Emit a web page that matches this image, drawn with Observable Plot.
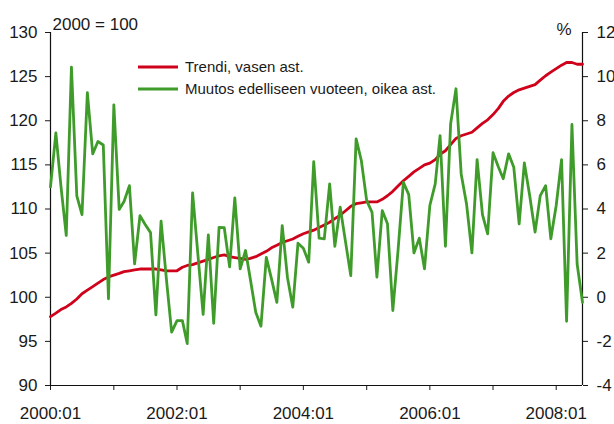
<!DOCTYPE html>
<html>
<head>
<meta charset="utf-8">
<script src="https://cdn.jsdelivr.net/npm/d3@7"></script>
<script src="https://cdn.jsdelivr.net/npm/@observablehq/plot@0.6"></script>
<style>
  html, body { margin: 0; padding: 0; background: #fff; }
  #chart { width: 614px; height: 424px; }
</style>
</head>
<body>
<div id="chart"></div>
<script>
// Monthly series, 2000:01 ... 2008:06
const startYear = 2000;
const startMonth = 0;

// Trend (2000 = 100), left axis
const trend = [
  97.8, 98.2, 98.6, 98.9, 99.3, 99.8, 100.4, 100.8, 101.2, 101.6, 102.0, 102.3,
  102.5, 102.7, 102.9, 103.0, 103.1, 103.2, 103.2, 103.2, 103.2, 103.1, 103.0, 103.0,
  103.0, 103.4, 103.6, 103.7, 103.9, 104.1, 104.3, 104.5, 104.7, 104.8, 104.6, 104.5,
  104.4, 104.3, 104.4, 104.6, 104.9, 105.2, 105.6, 105.9, 106.2, 106.4, 106.6, 106.9,
  107.2, 107.4, 107.6, 107.9, 108.2, 108.5, 108.9, 109.3, 109.8, 110.3, 110.6, 110.7,
  110.8, 110.8, 110.8, 111.1, 111.5, 112.0, 112.6, 113.2, 113.7, 114.2, 114.6, 115.0,
  115.2, 115.6, 116.2, 116.6, 117.3, 118.0, 118.3, 118.5, 118.7, 119.2, 119.7, 120.1,
  120.7, 121.4, 122.2, 122.8, 123.2, 123.5, 123.7, 123.9, 124.1, 124.6, 125.1, 125.5,
  125.9, 126.3, 126.6, 126.6, 126.4, 126.4
];

// Change from previous year (%), right axis
const change = [
  5.0, 7.45, 5.06, 2.8, 10.43, 4.6, 3.74, 9.27, 6.5, 7.06, 6.9, -0.07,
  8.72, 3.98, 4.34, 5.06, 1.51, 3.7, 3.3, 2.93, -0.8, 3.45, 0.8, -1.58,
  -1.06, -1.06, -2.1, 4.73, 2.0, -0.78, 2.83, -1.18, 3.17, 3.15, 1.38, 4.5,
  1.29, 2.12, 0.8, -0.68, -1.31, 1.81, 0.83, -0.23, 3.25, 0.91, -0.45, 2.45,
  2.22, 1.59, 6.15, 2.68, 2.65, 5.14, 2.31, 4.08, 2.5, 0.98, 7.18, 6.2,
  4.38, 3.85, 0.91, 3.93, 3.33, -0.6, 2.1, 5.21, 4.65, 2.01, 2.68, 1.29,
  4.16, 5.14, 7.33, 2.31, 7.86, 9.45, 5.59, 4.23, 2.01, 6.24, 3.74, 2.87,
  6.55, 5.9, 5.37, 6.5, 5.89, 3.33, 6.09, 4.6, 2.95, 4.61, 5.06, 2.65,
  4.16, 6.24, -1.09, 7.83, 1.51, -0.23
];

const leftTicks = [90, 95, 100, 105, 110, 115, 120, 125, 130];
const rightTicks = [-4, -2, 0, 2, 4, 6, 8, 10, 12];
const tickYears = [2000, 2001, 2002, 2003, 2004, 2005, 2006, 2007, 2008];
const labelYears = [2000, 2002, 2004, 2006, 2008];

const leftTitle = "2000 = 100";
const rightTitle = "%";
const legendLabels = ["Trendi, vasen ast.", "Muutos edelliseen vuoteen, oikea ast."];
const red = "#d0021b";
const green = "#3f9c2b";

// right axis (%) <-> left axis (index): 0 % ↔ 100, 12 % ↔ 130
const toLeft = (p) => 100 + p * 2.5;
const fromLeft = (v) => Math.round((v - 100) / 2.5);

const dateOf = (i) => new Date(Date.UTC(startYear, startMonth + i, 1));
const trendData = trend.map((v, i) => ({date: dateOf(i), value: v}));
const changeData = change.map((v, i) => ({date: dateOf(i), value: v}));
const firstDate = trendData[0].date;
const lastDate = trendData[trendData.length - 1].date;
const yearDates = tickYears.map((y) => new Date(Date.UTC(y, 0, 1)));

const chart = Plot.plot({
  width: 614,
  height: 424,
  marginLeft: 50,
  marginRight: 32,
  marginTop: 32,
  marginBottom: 39,
  style: {fontFamily: "'Liberation Sans', Arial, sans-serif", fontSize: "17px", color: "#1a1a1a", background: "#fff", overflow: "visible"},
  x: {type: "utc", domain: [firstDate, lastDate]},
  y: {domain: [90, 130]},
  marks: [
    Plot.axisY(leftTicks, {anchor: "left", tickSize: 5, tickPadding: 8, label: null, tickFormat: (d) => String(d), fontSize: 17}),
    Plot.axisY(rightTicks.map(toLeft), {anchor: "right", tickSize: 5, tickPadding: 9, label: null, tickFormat: (d) => String(fromLeft(d)), fontSize: 17}),
    Plot.axisX(yearDates, {anchor: "bottom", tickSize: 5, tickPadding: 16, label: null, fontSize: 17,
      tickFormat: (d) => labelYears.includes(d.getUTCFullYear()) ? `${d.getUTCFullYear()}:01` : ""}),
    Plot.ruleX([firstDate], {stroke: "#111", strokeWidth: 1.2}),
    Plot.ruleX([lastDate], {stroke: "#111", strokeWidth: 1.2}),
    Plot.ruleY([90], {stroke: "#111", strokeWidth: 1.2}),
    Plot.line(trendData, {x: "date", y: "value", stroke: red, strokeWidth: 2.8}),
    Plot.line(changeData, {x: "date", y: (d) => toLeft(d.value), stroke: green, strokeWidth: 2.8}),
    Plot.text([leftTitle], {frameAnchor: "top-left", dx: 2, dy: -15, textAnchor: "start", fontSize: 17, fill: "#1a1a1a"}),
    Plot.text([rightTitle], {frameAnchor: "top-right", dx: -11, dy: -10, fontSize: 17, fill: "#1a1a1a"})
  ]
});

document.getElementById("chart").appendChild(chart);

// Legend
const svg = d3.select(chart);
const legend = svg.append("g")
  .attr("font-family", "'Liberation Sans', Arial, sans-serif")
  .attr("font-size", 15)
  .attr("text-anchor", "start");
const legendColors = [red, green];
legendLabels.forEach((label, i) => {
  const y = 67 + i * 22;
  legend.append("line").attr("x1", 138).attr("x2", 178).attr("y1", y).attr("y2", y)
    .attr("stroke", legendColors[i]).attr("stroke-width", 3);
  legend.append("text").attr("x", 185).attr("y", y).attr("dy", "0.35em")
    .attr("text-anchor", "start").style("text-anchor", "start")
    .attr("font-size", 15).style("font-size", "15px")
    .attr("fill", "#1a1a1a").text(label);
});
</script>
</body>
</html>
